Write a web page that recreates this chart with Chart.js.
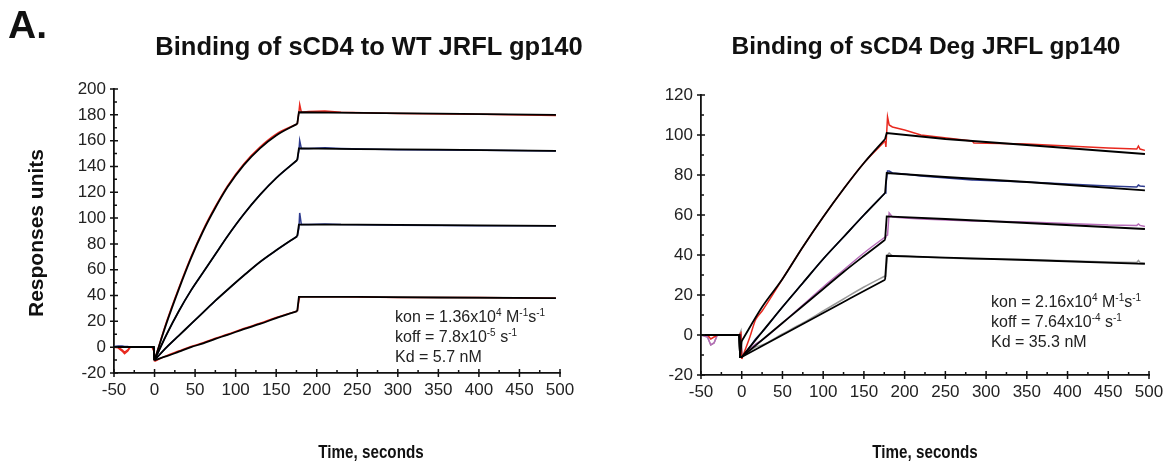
<!DOCTYPE html>
<html lang="en">
<head>
<meta charset="UTF-8" />
<title>Binding of sCD4 to JRFL gp140</title>
<script src="https://cdn.jsdelivr.net/npm/chart.js"></script>
<style>
  body { margin: 0; background: #fff; font-family: 'Liberation Sans', Arial, sans-serif; color: #111; }
  #wrap { position: relative; width: 1174px; height: 471px; overflow: hidden; }
  .box { position: absolute; top: 0; height: 471px; }
  .lbl { position: absolute; white-space: nowrap; line-height: 1; }
  .panel { font-size: 39px; font-weight: bold; left: 8px; top: 5px; }
  .title { font-size: 25.5px; font-weight: bold; top: 34px; transform: translateX(-50%); }
  .xt { font-size: 19px; font-weight: bold; top: 442px; transform: translateX(-50%) scaleX(0.8); }
  .yt { font-size: 21px; font-weight: bold; left: 35px; top: 233px; transform: translate(-50%, -50%) rotate(-90deg); }
  .kin { position: absolute; font-size: 16px; line-height: 20px; white-space: nowrap; color: #222; }
  .kin sup { font-size: 10px; line-height: 0; }
</style>
</head>
<body>
<div id="wrap">
  <div class="box" style="left:0; width:600px;"><canvas id="leftChart"></canvas></div>
  <div class="box" style="left:600px; width:574px;"><canvas id="rightChart"></canvas></div>

  <div class="lbl panel">A.</div>
  <div class="lbl title" style="left:369px;">Binding of sCD4 to WT JRFL gp140</div>
  <div class="lbl title" style="left:926px; font-size:24.5px;">Binding of sCD4 Deg JRFL gp140</div>
  <div class="lbl yt">Responses units</div>
  <div class="lbl xt" style="left:371px;">Time, seconds</div>
  <div class="lbl xt" style="left:925px;">Time, seconds</div>

  <div class="kin" style="left:395px; top:307px;">
    kon = 1.36x10<sup>4</sup> M<sup>-1</sup>s<sup>-1</sup><br>
    koff = 7.8x10<sup>-5</sup> s<sup>-1</sup><br>
    Kd = 5.7 nM
  </div>
  <div class="kin" style="left:991px; top:292px;">
    kon = 2.16x10<sup>4</sup> M<sup>-1</sup>s<sup>-1</sup><br>
    koff = 7.64x10<sup>-4</sup> s<sup>-1</sup><br>
    Kd = 35.3 nM
  </div>
</div>

<script>
  // ---- WT JRFL gp140 (left) ----
  const tFitL = [-50, -1, 0, 15, 30, 45, 60, 75, 90, 110, 130, 150, 176, 178, 250, 350, 495];
  const fitL1 = [0, 0, -10, 19, 45, 69, 90, 108, 124, 141, 154, 164, 173, 182, 181.5, 181, 180];
  const fitL2 = [0, 0, -10, 10, 28, 44, 58, 72, 86, 103, 118, 131, 145, 154, 153.5, 153, 152];
  const fitL3 = [0, 0, -10, 0, 9, 18, 27, 36, 44.5, 55.5, 66, 75, 86, 95, 95, 94.5, 94];
  const fitL4 = [0, 0, -10, -7, -3.5, 0, 3, 6.5, 9.5, 14, 18, 22.5, 28, 39, 39, 38.5, 38];

  const tDataL = [-50, -45, -40, -37, -33, -30, -3, -1, 0, 15, 30, 45, 60, 75, 90, 110, 130, 150, 176, 178, 179, 181, 190, 210, 230, 300, 400, 495];
  const dataL1 = [0, -0.5, -3, -5, -3, 0, 0, -3, -10, 20, 46, 70, 91, 109, 125, 142, 155, 165, 173, 182, 188, 182, 182.5, 183, 182, 181, 180.5, 179.5];
  const dataL2 = [0.5, 1, 1, 0.5, 0.5, 0, 0, -1, -10, 10, 28, 44, 58, 72, 86, 103, 118, 131, 145, 152, 160, 154, 154, 154.5, 154, 153, 152.5, 152];
  const dataL3 = [0, 0, 0, 0, 0, 0, 0, -1, -10, 0, 9, 18, 27, 36, 44.5, 55.5, 66, 75, 86, 92, 104, 95, 95, 95.5, 95, 94.5, 94, 94];
  const dataL4 = [0, 0, -2, -4, -2, 0, 0, -2, -11, -6.5, -3, 0.5, 3.5, 7, 10, 14.5, 18.5, 23, 28, 36, 39, 39, 39, 39, 39, 38.5, 38.5, 38];

  // ---- Deg JRFL gp140 (right) ----
  const tFitR = [-50, -3, -2, 0, 25, 50, 75, 100, 125, 150, 176, 178, 250, 350, 495];
  const fitR1 = [0, 0, -11, -3, 14, 28, 44, 59, 73, 86, 98, 101, 98, 95, 90.5];
  const fitR2 = [0, 0, -11, -11, 1.5, 14, 26, 38, 49, 60, 71, 81, 79, 76.5, 72.3];
  const fitR3 = [0, 0, -11, -11, -2.5, 6, 14.5, 23, 31.5, 39.5, 47.6, 59.3, 58, 56, 53];
  const fitR4 = [0, 0, -11, -11, -5.5, 0, 5.5, 11, 16.5, 22, 27.6, 39.6, 38.7, 37.5, 35.6];

  const tDataR = [-50, -42, -38, -34, -30, -3, -1, 0, 10, 17, 25, 50, 75, 100, 125, 150, 176, 177, 179, 181, 185, 200, 220, 283, 285, 350, 450, 485, 487, 489, 495];
  const dataR1 = [0, 0, -2, -1, 0, 0, 1, -12, -1, 7.6, 12, 28, 44, 59, 73, 86, 97, 94, 109, 105, 104, 102.5, 100, 97, 96, 95.5, 93.5, 93, 94.5, 93, 92.3];
  const dataR2 = [0, 0, 0, 0, 0, 0, 0, -11, -6, -2, 1.5, 14, 26, 38, 49, 60, 71, 75, 82, 82, 81, 80.5, 79.5, 77.5, 77.5, 76.5, 74.5, 74, 75, 74.5, 74.3];
  const dataR3 = [0, -1, -5, -4, 0, 0, 0, -11, -7, -4.5, -2.5, 6, 15, 24, 32.5, 41, 49, 49.5, 50, 61, 59, 58.5, 58, 57, 57, 56.5, 55, 54.8, 55.5, 54.8, 54.3];
  const dataR4 = [0, -1, -5, -4, 0, 0, 2, -11, -8, -6, -5, 0.5, 6, 12, 18, 24, 29.5, 30, 40, 41, 39.5, 39.5, 39, 38, 38, 37.7, 36.5, 36.3, 37.3, 36.3, 36];

  const xTicks = { min: -50, max: 500, step: 50 };
  const injectEnd = 176;   // end of the association phase

  const RED = '#e8281e', BLUE = '#2e3b8e', PURPLE = '#b66cb8', GRAY = '#9a9a9a';

  function pts(t, v, lo, hi) {
    const out = [];
    t.forEach((x, i) => { if (x >= lo && x <= hi) out.push({ x: x, y: v[i] }); });
    return out;
  }

  // baseline and dissociation straight, association phase smoothed
  function series(t, v, color, width, order) {
    const base = { borderColor: color, borderWidth: width, order: order };
    return [
      Object.assign({ data: pts(t, v, -Infinity, 0) }, base),
      Object.assign({ data: pts(t, v, 0, injectEnd), cubicInterpolationMode: 'monotone' }, base),
      Object.assign({ data: pts(t, v, injectEnd, Infinity) }, base)
    ];
  }
  const fit = (t, v) => series(t, v, '#000', 1.8, 0);
  const raw = (t, v, c) => series(t, v, c, 1.5, 1);

  // major ticks crossing the axis, minor ticks on the inside
  const axisTicks = {
    id: 'axisTicks',
    afterDraw(chart) {
      const ctx = chart.ctx, a = chart.chartArea;
      const xs = chart.scales.x, ys = chart.scales.y;
      ctx.save();
      ctx.strokeStyle = '#111';
      ctx.lineWidth = 1.5;
      ctx.beginPath();
      const yv = ys.ticks.map(t => t.value);
      yv.forEach((v, i) => {
        const p = ys.getPixelForValue(v);
        ctx.moveTo(a.left - 4, p); ctx.lineTo(a.left + 4, p);
        if (i < yv.length - 1) {
          const m = ys.getPixelForValue((v + yv[i + 1]) / 2);
          ctx.moveTo(a.left, m); ctx.lineTo(a.left + 3, m);
        }
      });
      const xv = xs.ticks.map(t => t.value);
      xv.forEach((v, i) => {
        const p = xs.getPixelForValue(v);
        ctx.moveTo(p, a.bottom - 4); ctx.lineTo(p, a.bottom + 4);
        if (i < xv.length - 1) {
          const m = xs.getPixelForValue((v + xv[i + 1]) / 2);
          ctx.moveTo(m, a.bottom); ctx.lineTo(m, a.bottom - 3);
        }
      });
      ctx.stroke();
      ctx.restore();
    }
  };

  function options(yMin, yMax, yStep, pad) {
    const tickFont = { family: "'Liberation Sans', Arial, sans-serif", size: 17 };
    return {
      responsive: true,
      maintainAspectRatio: false,
      animation: false,
      layout: { padding: pad },
      elements: { point: { radius: 0 }, line: { tension: 0 } },
      plugins: { legend: { display: false }, tooltip: { enabled: false } },
      scales: {
        x: {
          type: 'linear',
          min: xTicks.min, max: xTicks.max,
          ticks: { stepSize: xTicks.step, color: '#222', font: tickFont, padding: 7, maxRotation: 0 },
          grid: { display: false, drawTicks: false },
          border: { display: true, color: '#111', width: 1.8 },
          afterFit: s => { s.height = 30; }
        },
        y: {
          min: yMin, max: yMax,
          ticks: { stepSize: yStep, color: '#222', font: tickFont, padding: 8 },
          grid: { display: false, drawTicks: false },
          border: { display: true, color: '#111', width: 1.8 },
          afterFit: s => { s.width = 60; }
        }
      }
    };
  }

  new Chart(document.getElementById('leftChart'), {
    type: 'line',
    data: {
      datasets: [].concat(
        fit(tFitL, fitL1), fit(tFitL, fitL2), fit(tFitL, fitL3), fit(tFitL, fitL4),
        raw(tDataL, dataL1, RED), raw(tDataL, dataL2, BLUE),
        raw(tDataL, dataL3, BLUE), raw(tDataL, dataL4, RED)
      )
    },
    options: options(-20, 200, 20, { left: 54, right: 40, top: 89, bottom: 68 }),
    plugins: [axisTicks]
  });

  new Chart(document.getElementById('rightChart'), {
    type: 'line',
    data: {
      datasets: [].concat(
        fit(tFitR, fitR1), fit(tFitR, fitR2), fit(tFitR, fitR3), fit(tFitR, fitR4),
        raw(tDataR, dataR1, RED), raw(tDataR, dataR2, BLUE),
        raw(tDataR, dataR3, PURPLE), raw(tDataR, dataR4, GRAY)
      )
    },
    options: options(-20, 120, 20, { left: 41, right: 25, top: 95, bottom: 66 }),
    plugins: [axisTicks]
  });
</script>
</body>
</html>
